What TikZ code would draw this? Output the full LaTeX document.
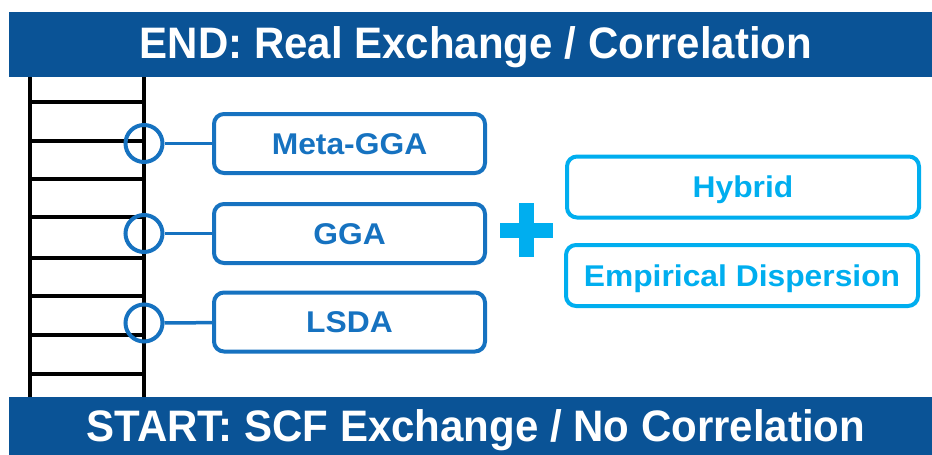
\documentclass[tikz,border=0pt]{standalone}
\usepackage{fontspec}
\setmainfont{Liberation Sans}
\definecolor{banner}{RGB}{10,83,150}
\definecolor{midblue}{RGB}{22,114,192}
\definecolor{lightblue}{RGB}{0,174,239}
\newcommand{\boxtxt}[1]{\scalebox{1.06}[1]{#1}}
\newcommand{\bantxt}[1]{\scalebox{1}[1.05]{#1}}
\begin{document}
\begin{tikzpicture}[x=1pt,y=-1pt,
  bannertext/.style={text=white,font=\bfseries\fontsize{42}{46}\selectfont,anchor=base,inner sep=0pt},
  levelbox/.style={draw=midblue,line width=4pt,rounded corners=10pt,text=midblue,
    font=\bfseries\fontsize{30}{34}\selectfont,minimum width=271pt,minimum height=59pt,inner sep=0pt,
    text height=21.5pt,text depth=0pt},
  addbox/.style={draw=lightblue,line width=4pt,rounded corners=10pt,text=lightblue,
    font=\bfseries\fontsize{30}{34}\selectfont,minimum width=352pt,minimum height=61pt,inner sep=0pt,
    text height=21.5pt,text depth=0pt},
  joint/.style={circle,draw=midblue,line width=4pt,minimum size=37pt,inner sep=0pt},
  link/.style={draw=midblue,line width=3.5pt},
  rail/.style={line width=4pt,black},
  rung/.style={line width=3.5pt,black}]
\useasboundingbox (0,0) rectangle (932,455);
% banners
\fill[banner] (9,12) rectangle (932,77);
\fill[banner] (9,397) rectangle (932,455);
\node[bannertext] (endt) at (476,58) {\bantxt{END: Real Exchange / Correlation}};
\node[bannertext] (startt) at (476,441.5) {\bantxt{START: SCF Exchange / No Correlation}};
% ladder
\draw[rail] (30,77) -- (30,397);
\draw[rail] (144,77) -- (144,397);
\foreach \y in {102,141,179,217,258,296,335,374}
  \draw[rung] (30,\y) -- (144,\y);
% joints
\node[joint] (c1) at (144,143.5) {};
\node[joint] (c2) at (144,233.5) {};
\node[joint] (c3) at (144,323) {};
% level boxes
\node[levelbox] (meta) at (349.5,143.5) {\boxtxt{Meta-GGA}};
\node[levelbox] (gga) at (349.5,233.5) {\boxtxt{GGA}};
\node[levelbox] (lsda) at (349.5,322) {\boxtxt{LSDA}};
\draw[link] (c1) -- (meta);
\draw[link] (c2) -- (gga);
\draw[link] (c3) -- (lsda);
% plus
\fill[lightblue] (500,222.5) rectangle (553,237.5);
\fill[lightblue] (519,203) rectangle (534,257);
% add-on boxes
\node[addbox] (hyb) at (743,187) {\boxtxt{Hybrid}};
\node[addbox] (disp) at (742,275.5) {\boxtxt{Empirical Dispersion}};
\end{tikzpicture}
\end{document}
